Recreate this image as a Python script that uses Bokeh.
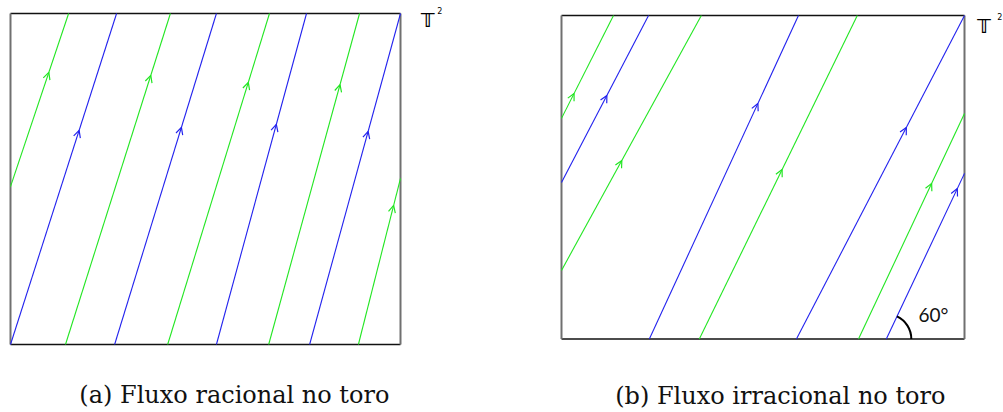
import numpy as np
from bokeh.plotting import figure
from bokeh.layouts import row
from bokeh.models import Range1d, ColumnDataSource, Arrow, OpenHead
from bokeh.core.properties import value
from bokeh.embed import file_html
from bokeh.resources import INLINE

# ---------------- data (torus unit-square coordinates) ----------------
# (a) rational flow: trajectory pieces
a_color = ["g", "b", "g", "b", "g", "b", "g", "b", "g"]
a_u0 = [0.0, 0.0, 0.141, 0.267, 0.403, 0.528, 0.662, 0.767, 0.892]
a_v0 = [0.477, 0.0, 0.0, 0.0, 0.0, 0.0, 0.0, 0.0, 0.0]
a_u1 = [0.149, 0.272, 0.410, 0.528, 0.664, 0.759, 0.895, 1.0, 1.0]
a_v1 = [1.0, 1.0, 1.0, 1.0, 1.0, 1.0, 1.0, 1.0, 0.502]
a_arrow_v = [0.822, 0.647, 0.813, 0.656, 0.792, 0.665, 0.785, 0.644, 0.420]

# (b) irrational flow: trajectory pieces
b_color = ["g", "b", "g", "b", "g", "b", "g", "b"]
b_u0 = [0.0, 0.0, 0.0, 0.218, 0.342, 0.583, 0.737, 0.806]
b_v0 = [0.682, 0.484, 0.212, 0.0, 0.0, 0.0, 0.0, 0.0]
b_u1 = [0.129, 0.216, 0.347, 0.588, 0.734, 1.0, 1.0, 1.0]
b_v1 = [1.0, 1.0, 1.0, 1.0, 1.0, 1.0, 0.697, 0.512]
b_arrow_v = [0.759, 0.753, 0.552, 0.728, 0.524, 0.654, 0.481, 0.465]

captions = ["(a) Fluxo racional no toro", "(b) Fluxo irracional no toro"]
angle_label = "60°"
torus_label = "𝕋"

COLORS = {"g": "#22e622", "b": "#2222ee"}


def make_panel(width, xr, yr, color, u0, v0, u1, v1, arrow_v):
    p = figure(width=width, height=412, x_range=Range1d(*xr), y_range=Range1d(*yr),
               output_backend="svg", toolbar_location=None, min_border=0,
               x_axis_type=None, y_axis_type=None, title=None)
    p.grid.visible = False
    p.outline_line_color = None
    p.background_fill_color = "white"
    p.border_fill_color = "white"

    # box
    p.segment(x0=[0, 0], y0=[0, 1], x1=[1, 1], y1=[0, 1], line_color="#111111", line_width=1.6)
    p.segment(x0=[0, 1], y0=[0, 0], x1=[0, 1], y1=[1, 1], line_color="#707070", line_width=2)

    cols = [COLORS[c] for c in color]
    p.segment(x0=u0, y0=v0, x1=u1, y1=v1, line_color=cols, line_width=1.1)

    for key in ("g", "b"):
        xs, ys, xe, ye = [], [], [], []
        for c, a0, b0, a1, b1, va in zip(color, u0, v0, u1, v1, arrow_v):
            if c != key:
                continue
            t = (va - b0) / (b1 - b0)
            ts = t - 0.02
            xe.append(a0 + t * (a1 - a0)); ye.append(va)
            xs.append(a0 + ts * (a1 - a0)); ys.append(b0 + ts * (b1 - b0))
        src = ColumnDataSource(dict(xs=xs, ys=ys, xe=xe, ye=ye))
        p.add_layout(Arrow(end=OpenHead(size=7, line_color=COLORS[key], line_width=1.2),
                           x_start="xs", y_start="ys", x_end="xe", y_end="ye",
                           source=src, line_alpha=0))
    return p


pa = make_panel(500, (-0.02564, 1.25641), (-0.20544, 1.03927),
                a_color, a_u0, a_v0, a_u1, a_v1, a_arrow_v)
pb = make_panel(503, (-0.15136, 1.09677), (-0.22720, 1.04637),
                b_color, b_u0, b_v0, b_u1, b_v1, b_arrow_v)

serif = value("DejaVu Serif")
pa.text(x=[0.574], y=[-0.154], text=[captions[0]], text_font=serif, text_font_size="24px",
        text_align="center", text_baseline="alphabetic", text_color="#111111")
pb.text(x=[0.543], y=[-0.1747], text=[captions[1]], text_font=serif, text_font_size="24px",
        text_align="center", text_baseline="alphabetic", text_color="#111111")

# torus labels
sans = value("DejaVu Sans")
pa.text(x=[1.052], y=[0.979], text=[torus_label], text_font=sans, text_color="black",
        text_font_size="20px", text_font_style="bold", text_baseline="alphabetic")
pa.text(x=[1.094], y=[1.008], text=["2"], text_font=sans, text_color="black",
        text_font_size="8px", text_baseline="alphabetic")
pb.text(x=[1.031], y=[0.969], text=[torus_label], text_font=sans, text_color="black",
        text_font_size="20px", text_font_style="bold", text_baseline="alphabetic")
pb.text(x=[1.081], y=[0.998], text=["2"], text_font=sans, text_color="black",
        text_font_size="8px", text_baseline="alphabetic")

# 60 degree angle mark at the foot of the last blue trajectory piece
fu, fv = b_u0[-1], b_v0[-1]
ang = np.arctan2((b_v1[-1] - fv) * 323.5, (b_u1[-1] - fu) * 403.0)
pb.arc(x=[fu], y=[fv], radius=25, radius_units="screen", start_angle=0.0, end_angle=float(ang),
       line_color="black", line_width=2)
pb.text(x=[0.886], y=[0.0757], text=[angle_label], text_font=value("Lato"),
        text_font_size="19px", text_baseline="alphabetic", text_color="#111111")

layout = row(pa, pb, spacing=0)
open("out.html", "w").write(file_html(layout, INLINE))
